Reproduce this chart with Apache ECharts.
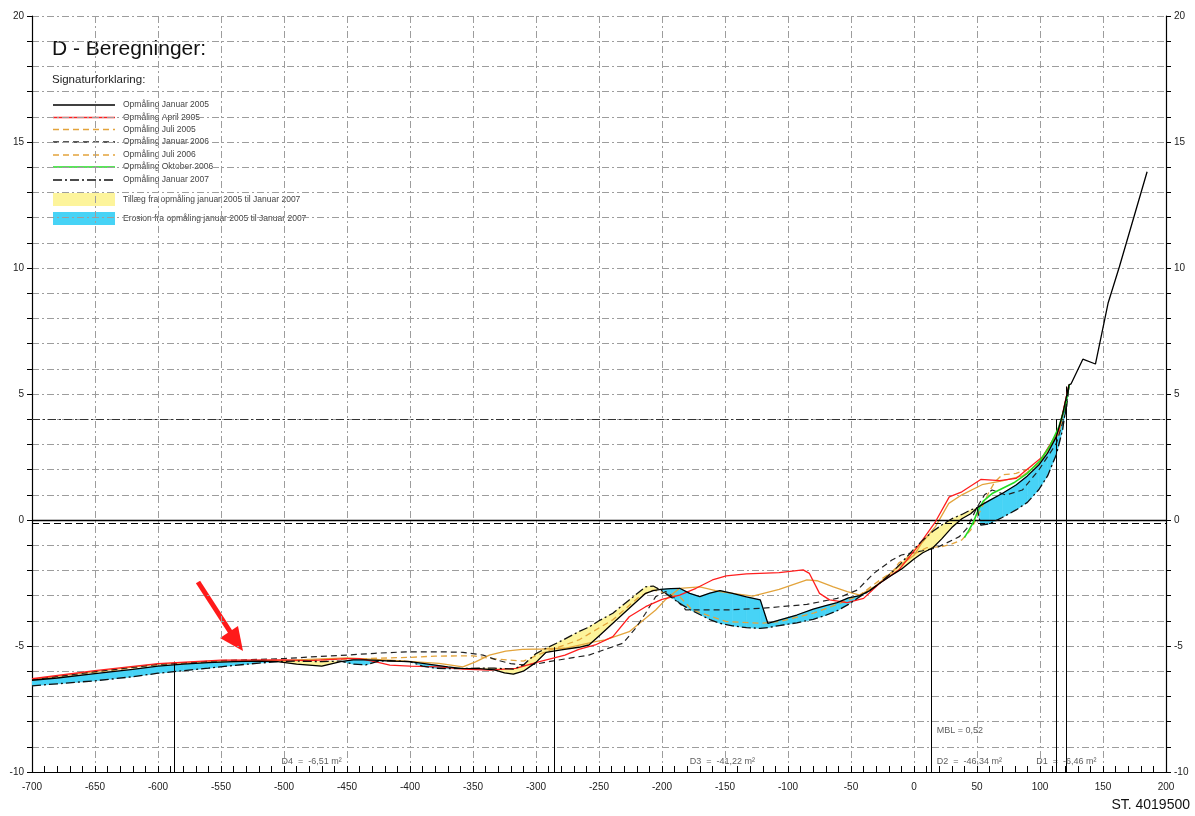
<!DOCTYPE html>
<html><head><meta charset="utf-8">
<script src="https://cdn.jsdelivr.net/npm/echarts@6/dist/echarts.min.js"></script>
<style>html,body{margin:0;padding:0;background:#fff}#c{width:1195px;height:816px}</style>
</head><body><div id="c"></div>
<script>
// ---------- data ----------
// Common stations for the two surveys that bound the fills
const xs = [-700,-680,-650,-620,-600,-580,-560,-540,-520,-505,
  -490,-470,-455,-445,-435,-425,-415,-400,-390,-380,
  -370,-360,-345,-333,-325,-318,-310,-300,-292,-280,
  -266,-258,-250,-239,-226,-213,-207,-201,-193,-186,
  -178,-170,-162,-154,-144,-133,-122,-116,-107,-93,
  -80,-70,-61,-52,-43,-35,-27,-18,-10,0,
  7,15,22,30,38,45,50,53,60,70,
  81,90,99,106,113,118,123];
const jan2005 = [-6.36,-6.27,-6.1,-5.93,-5.8,-5.72,-5.66,-5.62,-5.6,-5.62,
  -5.72,-5.8,-5.62,-5.55,-5.55,-5.57,-5.6,-5.62,-5.69,-5.76,
  -5.83,-5.89,-5.9,-5.95,-6.07,-6.12,-6.0,-5.65,-5.25,-5.15,
  -5.05,-4.96,-4.6,-4.1,-3.5,-2.91,-2.8,-2.75,-2.72,-2.71,
  -2.91,-3.04,-2.9,-2.8,-2.91,-3.05,-3.17,-4.1,-3.97,-3.77,
  -3.54,-3.4,-3.28,-3.09,-3.0,-2.8,-2.5,-2.2,-1.95,-1.55,
  -1.3,-1.1,-0.75,-0.3,0.05,0.25,0.48,0.58,0.78,1.05,
  1.39,1.75,2.18,2.65,3.31,4.2,5.36];
const jan2007 = [-6.58,-6.5,-6.38,-6.22,-6.08,-5.98,-5.88,-5.77,-5.68,-5.62,
  -5.6,-5.62,-5.6,-5.72,-5.75,-5.6,-5.58,-5.62,-5.8,-5.88,
  -5.9,-5.89,-5.88,-5.88,-5.9,-5.92,-5.75,-5.3,-5.09,-4.8,
  -4.43,-4.25,-4.0,-3.7,-3.17,-2.65,-2.62,-2.78,-3.05,-3.31,
  -3.55,-3.75,-3.95,-4.1,-4.2,-4.27,-4.3,-4.27,-4.19,-4.08,
  -3.94,-3.78,-3.6,-3.35,-3.04,-2.8,-2.5,-2.1,-1.7,-1.15,
  -0.8,-0.45,-0.2,0.05,0.22,0.4,0.48,-0.2,-0.15,0.1,
  0.4,0.7,1.2,1.75,2.6,3.6,5.3];
// Jan 2005 continues up the dune face
const jan2005TailX = [124.6,134,144,154,163,185];
const jan2005TailY = [5.4,6.38,6.19,8.6,10.05,13.82];

const apr2005X = [-700,-650,-600,-550,-500,-480,-450,-440,-427,-416,-400,-377,-358,-337,-316,-298,-277,-266,-253,-239,-226,-213,-200,-186,-173,-160,-149,-133,-107,-88,-83,-75,-67,-53,-40,-27,-12,4,17,28,38,53,68,81,102,115,123];
const apr2005Y = [-6.3,-5.98,-5.7,-5.56,-5.55,-5.58,-5.5,-5.5,-5.63,-5.76,-5.8,-5.83,-5.92,-5.96,-5.89,-5.63,-5.36,-5.13,-4.96,-4.63,-3.84,-3.44,-3.15,-2.98,-2.71,-2.38,-2.22,-2.14,-2.09,-1.98,-2.12,-2.91,-3.17,-3.28,-3.11,-2.5,-1.98,-0.99,-0.07,0.92,1.12,1.61,1.56,1.65,2.51,3.57,5.36];

const jul2005X = [-700,-650,-600,-550,-500,-450,-400,-380,-350,-335,-310,-292,-266,-239,-218,-207,-186,-176,-149,-122,-107,-80,-59,-43,-27,-17,-12,0,10,22,30,38,45,52,59,64,70,81,95,105,115,123];
const jul2005Y = [-6.35,-6.05,-5.75,-5.62,-5.6,-5.52,-5.45,-5.4,-5.39,-5.5,-5.6,-5.22,-4.76,-3.96,-3.04,-2.78,-3.04,-3.57,-4.03,-4.1,-4.03,-3.7,-3.31,-2.98,-2.38,-2.06,-1.7,-1.35,-1.1,-1.06,-0.95,-0.79,-0.4,0.3,1.06,1.5,1.79,1.85,2.1,2.6,3.5,5.36];

const jan2006X = [-700,-650,-600,-550,-500,-474,-450,-428,-403,-376,-358,-342,-331,-320,-310,-300,-290,-258,-231,-221,-213,-205,-197,-190,-181,-149,-120,-106,-85,-61,-45,-32,-17.5,-10,17,25,36,42,50,56,62,73,86,99,113,121,123];
const jan2006Y = [-6.33,-6.02,-5.73,-5.58,-5.5,-5.42,-5.36,-5.29,-5.23,-5.23,-5.25,-5.36,-5.56,-5.7,-5.75,-5.72,-5.62,-5.36,-4.89,-4.3,-3.7,-3.04,-2.84,-3.1,-3.57,-3.57,-3.5,-3.44,-3.35,-3.11,-2.78,-2.12,-1.59,-1.39,-1.12,-0.93,-0.66,-0.33,0.5,1.0,1.19,0.99,1.19,1.98,3.04,4.37,5.36];

const jul2006X = [-700,-650,-600,-550,-495,-450,-416,-377,-358,-348,-337,-324,-311,-295,-277,-253,-245,-226,-213,-205,-197,-186,-170,-154,-128,-107,-85,-77,-64,-53,-43,-30,-15,0,6,17,27.6,38,54,70,86,99,115,123];
const jul2006Y = [-6.33,-6.02,-5.72,-5.6,-5.56,-5.47,-5.56,-5.69,-5.83,-5.63,-5.36,-5.2,-5.13,-5.12,-5.09,-4.83,-4.76,-4.43,-3.9,-3.57,-3.15,-2.71,-2.65,-2.84,-3.02,-2.75,-2.38,-2.41,-2.65,-2.84,-2.98,-2.6,-1.95,-1.4,-0.93,-0.26,0.66,1.0,1.4,1.55,1.75,2.25,3.44,5.36];

const okt2006X = [40,43,47,51,55,62,70,80,90,100,108,115,120,123.3];
const okt2006Y = [-0.7,-0.45,-0.1,0.4,0.75,1.05,1.25,1.5,1.85,2.35,2.95,3.7,4.5,5.36];

// vertical section lines
const vlineX = [-587,-285.5,14,113,121];
const vlineTop = [-5.62,-5.05,-1.1,4.0,5.3];

// annotations
const annoText = ['D4  =  -6,51 m²','D3  =  -41,22 m²','D2  =  -46,34 m²','D1  =  -6,46 m²','MBL = 0,52'];
const annoX = [-502,-178,18,97,18];
const annoY = [-9.6,-9.6,-9.6,-9.6,-8.37];

const legendLabels = ['Opmåling Januar 2005','Opmåling April 2005','Opmåling Juli 2005','Opmåling Januar 2006','Opmåling Juli 2006','Opmåling Oktober 2006','Opmåling Januar 2007'];
const fillLabels = ['Tillæg fra opmåling januar 2005 til Januar 2007','Erosion fra opmåling januar 2005 til Januar 2007'];

// ---------- build ----------
const FONT = '"Liberation Sans", Arial, Helvetica, sans-serif';
const zip = (a, b) => a.slice(0, Math.min(a.length, b.length)).map((v, i) => [v, b[i]]);

const C = {red:'#ff1e1e', orange:'#e3a43c', green:'#22dd22', yellow:'#fdf49b', blue:'#47d3f6', grid:'#9d9d9d'};
const DASH = [6,4], DASHDOT = [9,3,2,3];
const gridLine = {show:true, lineStyle:{color:C.grid, width:1, type:[7,3,2,3]}};

function lineSeries(name, data, color, type, width, z, extra) {
  return Object.assign({name, type:'line', data, symbol:'none', smooth:false, silent:true, z:z,
    lineStyle:{color, width, type}}, extra || {});
}

// fill between Jan 2005 and Jan 2007, one segment per data item
function renderFill(params, api) {
  const i = api.value(2);
  const x0 = xs[i], x1 = xs[i + 1];
  const a0 = jan2005[i], a1 = jan2005[i + 1], b0 = jan2007[i], b1 = jan2007[i + 1];
  const d0 = b0 - a0, d1 = b1 - a1;
  const poly = (pts, d) => {
    const col = d > 0 ? C.yellow : C.blue;
    return {type:'polygon', shape:{points:pts.map(p => api.coord(p))},
      style:{fill:col, stroke:col, lineWidth:0.6}};
  };
  const children = [];
  if (d0 * d1 >= 0) {
    const d = (d0 + d1);
    if (Math.abs(d) > 1e-9) children.push(poly([[x0,a0],[x1,a1],[x1,b1],[x0,b0]], d));
  } else {
    const t = d0 / (d0 - d1);
    const xc = x0 + t * (x1 - x0), yc = a0 + t * (a1 - a0);
    children.push(poly([[x0,a0],[xc,yc],[x0,b0]], d0));
    children.push(poly([[xc,yc],[x1,a1],[x1,b1]], d1));
  }
  return {type:'group', children};
}

const markLineData = [
  [{coord:[-700,0]},{coord:[200,0], lineStyle:{type:'solid', color:'#000', width:1.3}}],
  [{coord:[-700,-0.12]},{coord:[200,-0.12], lineStyle:{type:[7,4], color:'#000', width:1.1}}],
  [{coord:[-700,4]},{coord:[200,4], lineStyle:{type:[8,3,2,3], color:'#333', width:1.1}}]
];
vlineX.forEach((x, i) => markLineData.push([{coord:[x,-10]},{coord:[x,vlineTop[i]], lineStyle:{type:'solid', color:'#000', width:1}}]));

const series = [
  {type:'custom', renderItem:renderFill, silent:true, z:1, clip:true,
   data: xs.slice(0, -1).map((x, i) => [x, jan2005[i], i]),
   encode:{x:0, y:1}},
  lineSeries('Opmåling Juli 2006', zip(jul2006X, jul2006Y), C.orange, 'solid', 1.3, 3),
  lineSeries('Opmåling Juli 2005', zip(jul2005X, jul2005Y), C.orange, DASH, 1.3, 3),
  lineSeries('Opmåling Januar 2006', zip(jan2006X, jan2006Y), '#222', DASH, 1.2, 4),
  lineSeries('Opmåling April 2005', zip(apr2005X, apr2005Y), C.red, 'solid', 1.3, 5),
  lineSeries('Opmåling Oktober 2006', zip(okt2006X, okt2006Y), C.green, 'solid', 1.6, 5),
  lineSeries('Opmåling Januar 2007', zip(xs, jan2007), '#111', DASHDOT, 1.3, 6),
  lineSeries('Opmåling Januar 2005', zip(xs.concat(jan2005TailX), jan2005.concat(jan2005TailY)), '#000', 'solid', 1.3, 7,
    {markLine:{symbol:['none','none'], silent:true, animation:false, label:{show:false}, data:markLineData}}),
  {type:'scatter', symbolSize:0, silent:true, z:8,
   data: annoX.map((x, i) => [x, annoY[i], annoText[i]]),
   label:{show:true, position:'right', distance:0, formatter:p => p.value[2], color:'#333', fontSize:9, fontFamily:FONT}}
];

// legend graphic
const G = [];
G.push({type:'text', x:52, y:49, style:{text:'D - Beregninger:', fontSize:21, fontFamily:FONT, fill:'#111', verticalAlign:'middle'}});
G.push({type:'text', x:52, y:80, style:{text:'Signaturforklaring:', fontSize:11.5, fontFamily:FONT, fill:'#222', verticalAlign:'middle'}});
const legendStyles = [
  {stroke:'#000', dash:null},{stroke:C.red, dash:null},{stroke:C.orange, dash:DASH},{stroke:'#222', dash:DASH},
  {stroke:C.orange, dash:DASH},{stroke:C.green, dash:null},{stroke:'#111', dash:DASHDOT}];
const rowY = [105,117.5,129.5,142,155,167,180];
legendLabels.forEach((t, i) => {
  const st = legendStyles[i];
  G.push({type:'line', shape:{x1:53,y1:rowY[i],x2:115,y2:rowY[i]}, style:{stroke:st.stroke, lineWidth:1.3, lineDash:st.dash}});
  G.push({type:'text', x:123, y:rowY[i], style:{text:t, fontSize:8.5, fontFamily:FONT, fill:'#444', verticalAlign:'middle'}});
});
G.push({type:'rect', shape:{x:53,y:193,width:62,height:13}, style:{fill:C.yellow}});
G.push({type:'text', x:123, y:199.5, style:{text:fillLabels[0], fontSize:8.5, fontFamily:FONT, fill:'#444', verticalAlign:'middle'}});
G.push({type:'rect', shape:{x:53,y:212,width:62,height:13}, style:{fill:C.blue}});
G.push({type:'text', x:123, y:218.5, style:{text:fillLabels[1], fontSize:8.5, fontFamily:FONT, fill:'#444', verticalAlign:'middle'}});
// red arrow
G.push({type:'line', shape:{x1:198,y1:582,x2:231,y2:633}, style:{stroke:'#ff1a1a', lineWidth:5}});
G.push({type:'polygon', shape:{points:[[243,651],[220,638],[238,626]]}, style:{fill:'#ff1a1a'}});
G.push({type:'text', x:1190, y:805, style:{text:'ST. 4019500', fontSize:14, fontFamily:FONT, fill:'#111', align:'right', verticalAlign:'middle'}});

const axisCommon = {
  axisLine:{show:true, onZero:false, lineStyle:{color:'#000', width:1.2}},
  axisTick:{show:true, length:5, lineStyle:{color:'#000'}},
  minorTick:{show:true, splitNumber:5, length:5, lineStyle:{color:'#000'}},
  axisLabel:{color:'#222', fontSize:10, fontFamily:FONT, margin:8}
};

const chart = echarts.init(document.getElementById('c'), null, {renderer:'canvas'});
chart.setOption({
  animation:false,
  backgroundColor:'#fff',
  textStyle:{fontFamily:FONT},
  grid:{left:32, right:29, top:16, bottom:44, containLabel:false},
  xAxis:{type:'value', min:-700, max:200, interval:50,
    axisLine:{show:true, onZero:false, lineStyle:{color:'#000', width:1.2}},
    axisTick:{show:true, inside:true, length:6, lineStyle:{color:'#000'}},
    minorTick:{show:true, splitNumber:5, length:6, lineStyle:{color:'#000'}},
    axisLabel:{color:'#222', fontSize:10, fontFamily:FONT, margin:10},
    splitLine:gridLine},
  yAxis:[
    Object.assign({type:'value', min:-10, max:20, interval:5, position:'left', splitLine:gridLine, minorSplitLine:gridLine}, axisCommon),
    Object.assign({type:'value', min:-10, max:20, interval:5, position:'right', splitLine:{show:false}}, axisCommon)
  ],
  graphic:G,
  series
});
</script></body></html>
